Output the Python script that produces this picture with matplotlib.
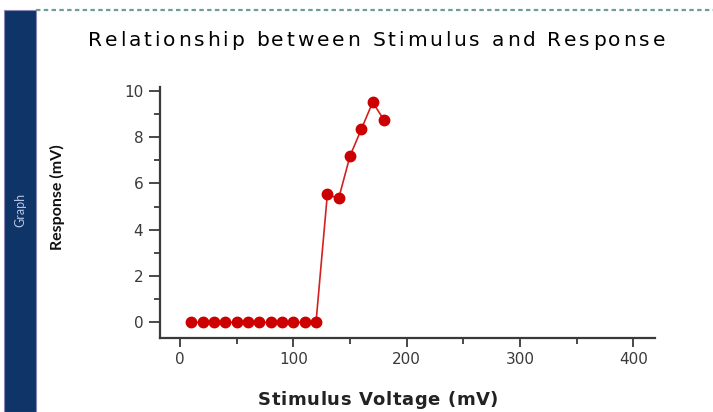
import matplotlib
matplotlib.use("Agg")
import matplotlib.pyplot as plt
import matplotlib.patches as mpatches
from matplotlib.ticker import MultipleLocator

# data
stimulus = [10, 20, 30, 40, 50, 60, 70, 80, 90, 100, 110, 120,
            130, 140, 150, 160, 170, 180]
response = [0, 0, 0, 0, 0, 0, 0, 0, 0, 0, 0, 0,
            5.52, 5.35, 7.18, 8.34, 9.50, 8.73]
x_ticks = [0, 100, 200, 300, 400]
y_ticks = [0, 2, 4, 6, 8, 10]

W, H = 713, 412
fig = plt.figure(figsize=(W / 100, H / 100), dpi=100)
fig.patch.set_facecolor("white")


def spaced_text(fig, x0, y, s, width, **kw):
    """write s letter by letter so that it spans `width` pixels from x0"""
    r = fig.canvas.get_renderer()

    def w_of(txt):
        t = fig.text(0, 0, txt, **kw)
        w = t.get_window_extent(r).width
        t.remove()
        return w

    base = w_of("ii")
    widths = [w_of("i" + ch + "i") - base for ch in s]
    extra = (width - sum(widths)) / (len(s) - 1)
    x = x0
    for ch, w in zip(s, widths):
        fig.text(x / W, 1 - y / H, ch, ha="left", va="center", **kw)
        x += w + extra


# side panel and top rule of the surrounding window
fig.patches.append(mpatches.Rectangle((4 / W, 0), 32 / W, 1 - 10 / H,
                                      transform=fig.transFigure,
                                      facecolor="#0e3468", edgecolor="#8a86b8",
                                      lw=0.8, zorder=0))
fig.add_artist(plt.Line2D([36 / W, 1], [1 - 10 / H, 1 - 10 / H],
                          transform=fig.transFigure, color="#6e9c9c",
                          lw=1.6, ls=(0, (2, 1.5))))
fig.text(20 / W, 1 - 210 / H, "Graph", rotation=90, color="#b8c4e0",
         fontsize=9, ha="center", va="center", family="Lato")

ax = fig.add_axes([160 / W, 1 - 337.7 / H, 495 / W, 251 / H])
ax.plot(stimulus, response, color="#d42020", lw=1.2, marker="o",
        markersize=7.5, markerfacecolor="#cc0000", markeredgecolor="#cc0000",
        clip_on=False)

ax.set_xlim(-17.6, 419)
ax.set_ylim(-0.66, 10.17)
ax.set_xticks(x_ticks)
ax.set_yticks(y_ticks)
ax.xaxis.set_minor_locator(MultipleLocator(50))
ax.yaxis.set_minor_locator(MultipleLocator(1))

for side in ["top", "right"]:
    ax.spines[side].set_visible(False)
for side in ["left", "bottom"]:
    ax.spines[side].set_color("#3a3a3a")
    ax.spines[side].set_linewidth(1.6)

ax.tick_params(which="major", width=1.3, color="#3a3a3a",
               labelsize=11, labelcolor="#3a3a3a", pad=4)
ax.tick_params(axis="y", which="major", length=8)
ax.tick_params(axis="x", which="major", length=6.5)
ax.tick_params(which="minor", length=4.3, width=1.3, color="#3a3a3a")

spaced_text(fig, 88, 40, "Relationship between Stimulus and Response", 577,
            fontsize=14.5, color="#000000")
spaced_text(fig, 258, 400, "Stimulus Voltage (mV)", 240,
            fontsize=13, fontweight="bold", color="#222222")
fig.text(57 / W, 1 - 197 / H, "Response (mV)", ha="center", va="center",
         rotation=90, fontsize=11.5, fontweight="bold", color="#111111",
         family="Lato")

fig.savefig("out.png", dpi=100)
